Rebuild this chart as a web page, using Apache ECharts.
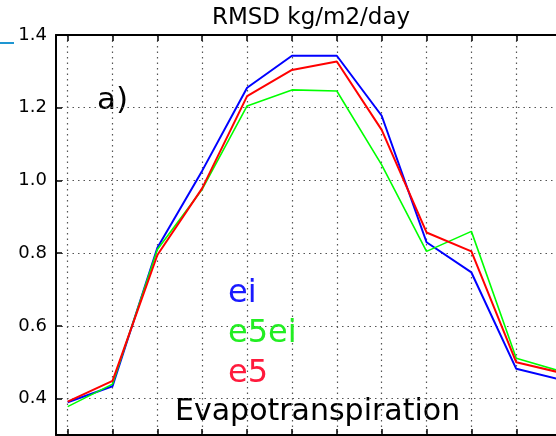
<!DOCTYPE html>
<html>
<head>
<meta charset="utf-8">
<script src="https://cdn.jsdelivr.net/npm/echarts@6/dist/echarts.min.js"></script>
<style>
  html, body { margin: 0; padding: 0; background: #fff; }
</style>
</head>
<body>
<div id="chart" style="width:556px;height:436px;"></div>
<script>
    // RMSD evapotranspiration, monthly
    var months = [1, 2, 3, 4, 5, 6, 7, 8, 9, 10, 11, 12];
    var ei   = [0.390, 0.434, 0.815, 1.027, 1.255, 1.343, 1.343, 1.178, 0.830, 0.747, 0.482, 0.452];
    var e5ei = [0.378, 0.440, 0.810, 0.976, 1.205, 1.249, 1.246, 1.043, 0.805, 0.860, 0.511, 0.475];
    var e5   = [0.392, 0.449, 0.795, 0.979, 1.232, 1.304, 1.327, 1.139, 0.857, 0.805, 0.500, 0.471];
    var yTicks = [0.4, 0.6, 0.8, 1.0, 1.2, 1.4];

    var font = 'DejaVu Sans';
    // the panel is cut at the right edge of the picture, so the x range stops short of december
    var xMin = 0.74, xMax = 11.886;

    function pairs(vals) {
        return months.map(function (m, i) { return [m, vals[i]]; });
    }

    var chart = echarts.init(document.getElementById('chart'));
    chart.setOption({
        animation: false,
        grid: { left: 56, top: 35, right: 0, bottom: 1 },
        legend: {
            orient: 'vertical',
            left: 223,
            top: 274,
            padding: 0,
            itemGap: 0,
            itemWidth: 0,
            itemHeight: 0,
            icon: 'none',
            selectedMode: false,
            textStyle: { fontFamily: font, fontSize: 32, lineHeight: 40 },
            data: [
                { name: 'ei', textStyle: { color: '#1a1aff' } },
                { name: 'e5ei', textStyle: { color: '#22ee22' } },
                { name: 'e5', textStyle: { color: '#ff1a3c' } }
            ]
        },
        xAxis: [{
            type: 'value',
            min: xMin,
            max: xMax,
            axisLine: { show: true, onZero: false, lineStyle: { color: '#000', width: 2 } },
            axisTick: { show: true, inside: true, length: 6, customValues: months, lineStyle: { color: '#000', width: 1.5 } },
            axisLabel: { show: false, customValues: months },
            splitLine: { show: true, lineStyle: { color: '#555', width: 1.2, type: [1.5, 4] } }
        }, {
            type: 'value',
            position: 'top',
            min: xMin,
            max: xMax,
            axisLine: { show: true, onZero: false, lineStyle: { color: '#000', width: 2 } },
            axisTick: { show: true, inside: true, length: 6, customValues: months, lineStyle: { color: '#000', width: 1.5 } },
            axisLabel: { show: false },
            splitLine: { show: false }
        }],
        yAxis: {
            type: 'value',
            min: 0.3,
            max: 1.4,
            axisLine: { show: true, lineStyle: { color: '#000', width: 2 } },
            axisTick: { show: true, inside: true, length: 6, customValues: yTicks, lineStyle: { color: '#000', width: 1.5 } },
            axisLabel: {
                customValues: yTicks,
                margin: 9,
                color: '#000',
                fontFamily: font,
                fontSize: 18,
                formatter: function (v) { return v.toFixed(1); }
            },
            splitLine: { show: true, lineStyle: { color: '#555', width: 1.2, type: [1.5, 4] } }
        },
        series: [
            { name: 'ei', type: 'line', data: pairs(ei), showSymbol: false, color: '#0000ff', lineStyle: { width: 2 } },
            { name: 'e5ei', type: 'line', data: pairs(e5ei), showSymbol: false, color: '#00ff00', lineStyle: { width: 1.6 } },
            { name: 'e5', type: 'line', data: pairs(e5), showSymbol: false, color: '#ff0000', lineStyle: { width: 2 } }
        ],
        graphic: [
            { type: 'rect', left: 0, top: 42, shape: { width: 14, height: 2 }, style: { fill: '#1e96d2' } },
            { type: 'text', x: 311, y: 18.5, style: { text: 'RMSD kg/m2/day', font: '23px "DejaVu Sans"', fill: '#000', align: 'center', verticalAlign: 'middle' } },
            { type: 'text', x: 97, y: 101, style: { text: 'a)', font: '31px "DejaVu Sans"', fill: '#000', align: 'left', verticalAlign: 'middle' } },
            { type: 'text', x: 175, y: 412.5, style: { text: 'Evapotranspiration', font: '30px "DejaVu Sans"', fill: '#000', align: 'left', verticalAlign: 'middle' } }
        ]
    });
</script>
</body>
</html>
